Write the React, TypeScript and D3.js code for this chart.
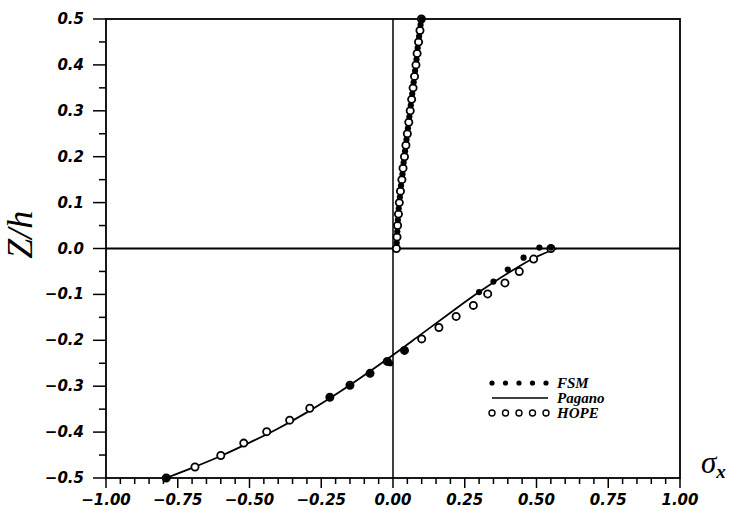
import { useRef, useEffect } from 'react'
import * as d3 from 'd3'

const WIDTH = 735
const HEIGHT = 510
const MARGIN = { top: 19, right: 55, bottom: 32, left: 106 }

const X_TICKS = [-1, -0.75, -0.5, -0.25, 0, 0.25, 0.5, 0.75, 1]
const X_TICK_LABELS = ['−1.00', '−0.75', '−0.50', '−0.25', '0.00', '0.25', '0.50', '0.75', '1.00']
const Y_TICKS = [0.5, 0.4, 0.3, 0.2, 0.1, 0, -0.1, -0.2, -0.3, -0.4, -0.5]
const Y_TICK_LABELS = ['0.5', '0.4', '0.3', '0.2', '0.1', '0.0', '−0.1', '−0.2', '−0.3', '−0.4', '−0.5']

// Pagano exact solution, [sigma_x, z/h]
const PAGANO_TOP: [number, number][] = [
  [0.011, 0], [0.016, 0.05], [0.021, 0.1], [0.030, 0.15], [0.040, 0.2], [0.050, 0.25],
  [0.060, 0.3], [0.070, 0.35], [0.080, 0.4], [0.090, 0.45], [0.100, 0.5],
]
const PAGANO_BOTTOM: [number, number][] = [
  [-0.79, -0.5], [-0.70, -0.478], [-0.60, -0.452], [-0.50, -0.423], [-0.40, -0.392],
  [-0.30, -0.357], [-0.20, -0.318], [-0.10, -0.276], [0.0, -0.232], [0.10, -0.186],
  [0.20, -0.140], [0.30, -0.095], [0.40, -0.054], [0.50, -0.018], [0.57, 0.0],
]

// HOPE (open circles)
const HOPE_TOP: [number, number][] = [
  [0.012, 0], [0.014, 0.025], [0.016, 0.05], [0.019, 0.075], [0.022, 0.1], [0.026, 0.125],
  [0.031, 0.15], [0.035, 0.175], [0.040, 0.2], [0.045, 0.225], [0.050, 0.25], [0.055, 0.275],
  [0.060, 0.3], [0.065, 0.325], [0.070, 0.35], [0.075, 0.375], [0.080, 0.4], [0.084, 0.425],
  [0.089, 0.45], [0.094, 0.475], [0.099, 0.5],
]
const HOPE_BOTTOM: [number, number][] = [
  [-0.79, -0.5], [-0.69, -0.476], [-0.60, -0.451], [-0.52, -0.424], [-0.44, -0.399],
  [-0.36, -0.374], [-0.29, -0.348], [-0.22, -0.324], [-0.15, -0.298], [-0.08, -0.272],
  [-0.02, -0.246], [0.04, -0.222], [0.10, -0.197], [0.16, -0.172], [0.22, -0.148],
  [0.28, -0.124], [0.33, -0.099], [0.39, -0.075], [0.44, -0.050], [0.49, -0.023], [0.55, 0.0],
]

// FSM (filled dots)
const FSM_TOP: [number, number][] = [
  [0.013, 0.012], [0.015, 0.037], [0.017, 0.062], [0.020, 0.087], [0.024, 0.112],
  [0.028, 0.137], [0.033, 0.162], [0.037, 0.187], [0.042, 0.212], [0.047, 0.237],
  [0.052, 0.262], [0.057, 0.287], [0.062, 0.312], [0.067, 0.337], [0.072, 0.362],
  [0.077, 0.387], [0.082, 0.412], [0.086, 0.437], [0.091, 0.462], [0.096, 0.487], [0.100, 0.5],
]
const FSM_BOTTOM: [number, number][] = [
  [-0.79, -0.5], [-0.22, -0.324], [-0.15, -0.298], [-0.08, -0.272], [-0.02, -0.246],
  [-0.01, -0.25], [0.04, -0.222], [0.30, -0.095], [0.35, -0.072], [0.40, -0.046],
  [0.455, -0.020], [0.51, 0.002], [0.55, 0.002],
]

const LEGEND = ['FSM', 'Pagano', 'HOPE']

const TICK_FONT = '"DejaVu Sans", sans-serif'

export default function App() {
  const svgRef = useRef<SVGSVGElement>(null)

  useEffect(() => {
    if (!svgRef.current) return
    const svg = d3.select(svgRef.current)
    svg.selectAll('*').remove()

    const iw = WIDTH - MARGIN.left - MARGIN.right
    const ih = HEIGHT - MARGIN.top - MARGIN.bottom
    const x = d3.scaleLinear().domain([-1, 1]).range([MARGIN.left, MARGIN.left + iw])
    const y = d3.scaleLinear().domain([-0.5, 0.5]).range([MARGIN.top + ih, MARGIN.top])

    svg.append('rect').attr('width', WIDTH).attr('height', HEIGHT).attr('fill', '#fff')

    // frame
    svg.append('rect')
      .attr('x', x(-1)).attr('y', y(0.5))
      .attr('width', x(1) - x(-1)).attr('height', y(-0.5) - y(0.5))
      .attr('fill', 'none').attr('stroke', '#000').attr('stroke-width', 1.8)

    // zero lines
    svg.append('line')
      .attr('x1', x(-1)).attr('x2', x(1)).attr('y1', y(0)).attr('y2', y(0))
      .attr('stroke', '#000').attr('stroke-width', 1.8)
    svg.append('line')
      .attr('x1', x(0)).attr('x2', x(0)).attr('y1', y(0.5)).attr('y2', y(-0.5))
      .attr('stroke', '#000').attr('stroke-width', 1.5)

    // x ticks (major 0.25, minor 0.05)
    const xMinor = d3.range(-1, 1.0001, 0.05)
    svg.append('g').selectAll('line').data(xMinor).join('line')
      .attr('x1', d => x(d)).attr('x2', d => x(d))
      .attr('y1', y(-0.5))
      .attr('y2', d => y(-0.5) + (Math.abs(d * 4 - Math.round(d * 4)) < 1e-6 ? 10 : 6))
      .attr('stroke', '#000').attr('stroke-width', 1.5)

    svg.append('g').selectAll('text').data(X_TICKS).join('text')
      .attr('x', d => x(d)).attr('y', y(-0.5) + 27)
      .attr('text-anchor', 'middle')
      .attr('font-family', TICK_FONT).attr('font-weight', 'bold').attr('font-style', 'italic')
      .attr('font-size', 15)
      .text((d, i) => X_TICK_LABELS[i])

    // y ticks (major 0.1, minor 0.05)
    const yMinor = d3.range(-0.5, 0.5001, 0.05)
    svg.append('g').selectAll('line').data(yMinor).join('line')
      .attr('y1', d => y(d)).attr('y2', d => y(d))
      .attr('x1', x(-1))
      .attr('x2', d => x(-1) - (Math.abs(d * 10 - Math.round(d * 10)) < 1e-6 ? 13 : 7))
      .attr('stroke', '#000').attr('stroke-width', 1.5)

    svg.append('g').selectAll('text').data(Y_TICKS).join('text')
      .attr('x', x(-1) - 22).attr('y', d => y(d) + 5)
      .attr('text-anchor', 'end')
      .attr('font-family', TICK_FONT).attr('font-weight', 'bold').attr('font-style', 'italic')
      .attr('font-size', 15)
      .text((d, i) => Y_TICK_LABELS[i])

    // axis titles
    svg.append('text')
      .attr('transform', `translate(32,${y(0.03)}) rotate(-90)`)
      .attr('text-anchor', 'middle')
      .attr('font-family', '"Liberation Serif", serif').attr('font-style', 'italic')
      .attr('font-size', 36)
      .text('Z/h')

    const sx = svg.append('text')
      .attr('x', x(1) + 21).attr('y', y(-0.5) - 5)
      .attr('font-family', '"Liberation Serif", serif').attr('font-style', 'italic')
    sx.append('tspan').attr('font-size', 31).text('σ')
    sx.append('tspan').attr('font-size', 19).attr('font-weight', 'bold').attr('dy', 5).text('x')

    // Pagano curves
    const line = d3.line<[number, number]>().x(d => x(d[0])).y(d => y(d[1])).curve(d3.curveMonotoneX)
    const lineV = d3.line<[number, number]>().x(d => x(d[0])).y(d => y(d[1])).curve(d3.curveMonotoneY)
    svg.append('path').attr('d', lineV(PAGANO_TOP))
      .attr('fill', 'none').attr('stroke', '#000').attr('stroke-width', 1.8)
    svg.append('path').attr('d', line(PAGANO_BOTTOM))
      .attr('fill', 'none').attr('stroke', '#000').attr('stroke-width', 1.8)

    // HOPE circles
    svg.append('g').selectAll('circle').data([...HOPE_TOP, ...HOPE_BOTTOM]).join('circle')
      .attr('cx', d => x(d[0])).attr('cy', d => y(d[1])).attr('r', 3.6)
      .attr('fill', '#fff').attr('stroke', '#000').attr('stroke-width', 1.8)

    // FSM dots
    svg.append('g').selectAll('circle').data([...FSM_TOP, ...FSM_BOTTOM]).join('circle')
      .attr('cx', d => x(d[0])).attr('cy', d => y(d[1])).attr('r', 3.1)
      .attr('fill', '#000')

    // legend
    const lg = svg.append('g')
    const lx0 = 490, lx1 = 548, ly = [383, 398, 413]
    lg.selectAll('circle.fsm').data(d3.range(5)).join('circle')
      .attr('cx', i => lx0 + 2 + i * 13.5).attr('cy', ly[0]).attr('r', 2.6).attr('fill', '#000')
    lg.append('line').attr('x1', lx0 + 2).attr('x2', lx1).attr('y1', ly[1]).attr('y2', ly[1])
      .attr('stroke', '#000').attr('stroke-width', 1.6)
    lg.selectAll('circle.hope').data(d3.range(5)).join('circle')
      .attr('cx', i => lx0 + 2 + i * 13.5).attr('cy', ly[2]).attr('r', 3)
      .attr('fill', '#fff').attr('stroke', '#000').attr('stroke-width', 1.4)
    lg.selectAll('text').data(LEGEND).join('text')
      .attr('x', 557).attr('y', (d, i) => ly[i] + 5)
      .attr('font-family', '"Liberation Serif", serif').attr('font-weight', 'bold').attr('font-style', 'italic')
      .attr('font-size', 15)
      .text(d => d)
  }, [])

  return (
    <svg
      ref={svgRef}
      width={WIDTH}
      height={HEIGHT}
      style={{ position: 'absolute', left: 0, top: 0, background: '#fff' }}
    />
  )
}
